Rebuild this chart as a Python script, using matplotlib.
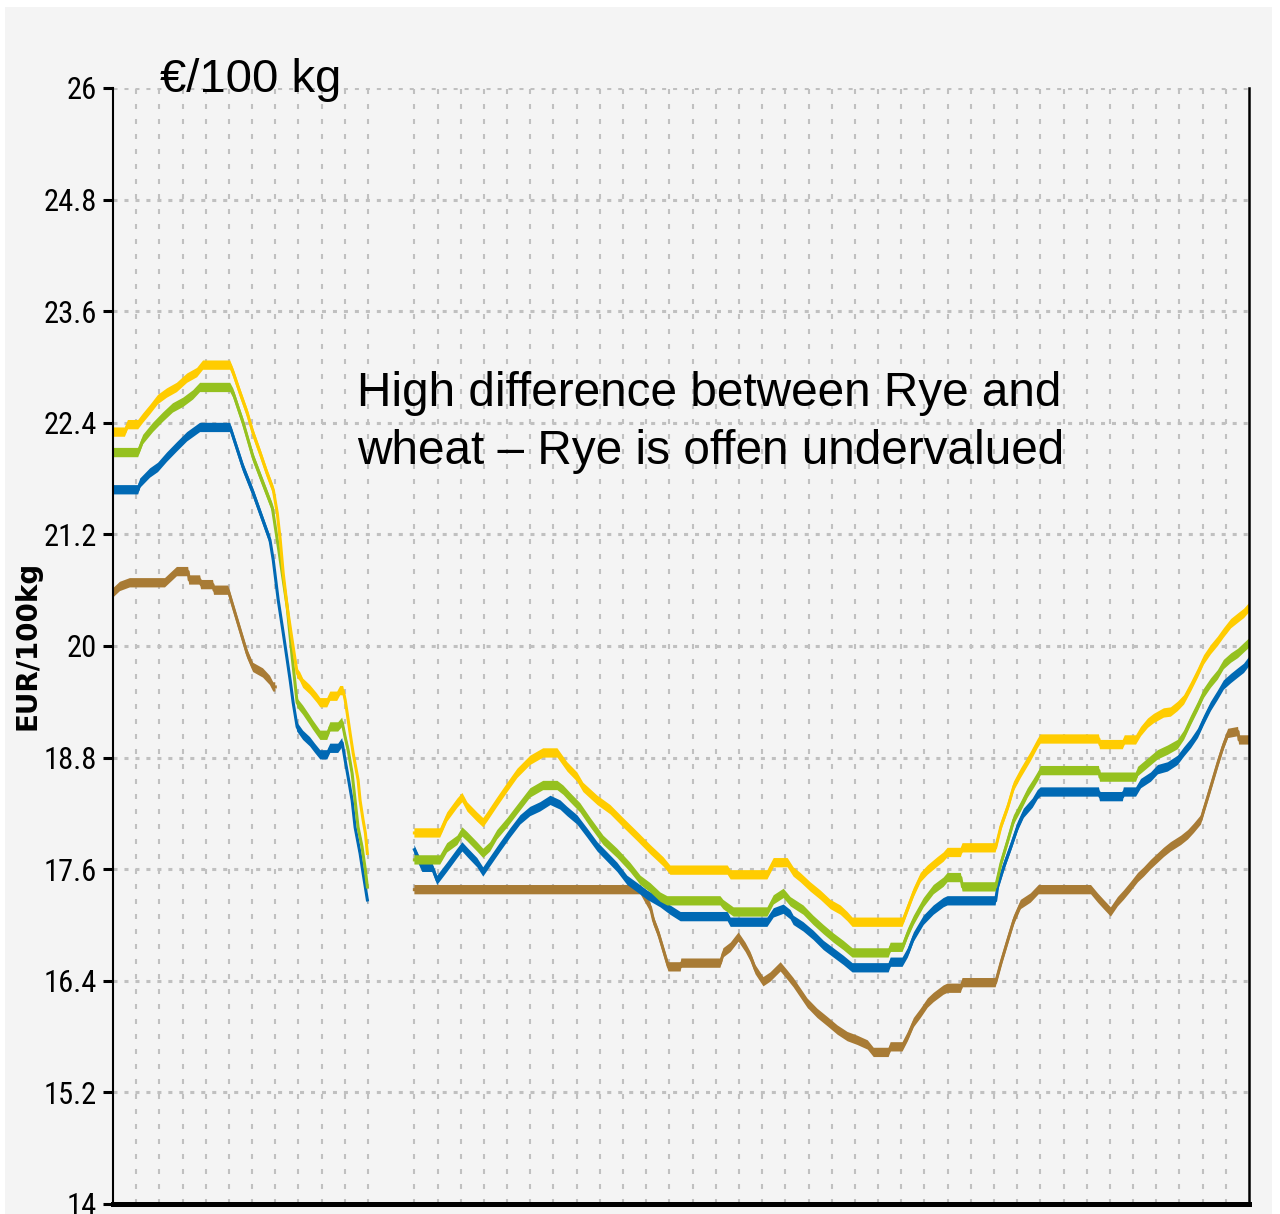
import numpy as np
import matplotlib.pyplot as plt
import matplotlib.font_manager as fm
from matplotlib.patches import Rectangle

plt.rcParams["lines.scale_dashes"] = False

# x = days since start of the period, y = EUR/100 kg ; None marks the gap in the data
yellow_day = [0, 3.6, 4.5, 7.6, 9.1, 11.2, 13.6, 16.3, 19.3, 22.4, 25.4, 27.2, 35.4, 36.3, 38.4, 40.5,
              42.3, 44.4, 46.5, 48.4, 49.6, 50.5, 51.4, 52.6, 54.1, 55.6, 56.5, 57.4, 59.5, 61.6, 62.6,
              64.7, 65.6, 67.7, 68.6, 69.5, 70.1, 70.7, 71.6, 72.5, 74.0, 74.6, 75.5, 76.2, 76.8, None,
              91.0, 98.8, 100.9, 104.0, 105.5, 107.0, 110.0, 111.8, 113.0, 116.0, 119.1, 122.1, 126.0,
              129.9, 134.2, 137.2, 140.2, 142.0, 146.3, 150.2, 154.1, 158.4, 162.3, 166.2, 168.3, 185.6,
              186.5, 197.6, 199.5, 203.7, 205.5, 207.6, 210.6, 213.7, 216.7, 219.7, 221.8, 223.3, 238.4,
              240.0, 241.8, 243.9, 246.0, 249.0, 250.8, 252.0, 256.0, 256.5, 266.5, 268.1, 270.2, 272.0,
              274.1, 277.1, 279.2, 280.1, 297.7, 298.0, 304.9, 305.5, 308.9, 310.4, 312.5, 314.3, 317.3,
              319.4, 321.5, 323.4, 325.5, 327.6, 329.4, 331.5, 333.6, 335.4, 337.6, 339.7, 341.5, 343.0]
yellow_val = [22.30, 22.30, 22.38, 22.38, 22.45, 22.54, 22.65, 22.72, 22.78, 22.88, 22.94, 23.02, 23.02,
              22.94, 22.72, 22.51, 22.29, 22.08, 21.86, 21.68, 21.43, 21.14, 20.78, 20.42, 20.06, 19.71,
              19.67, 19.60, 19.53, 19.44, 19.39, 19.39, 19.46, 19.46, 19.52, 19.52, 19.42, 19.28, 19.06,
              18.85, 18.56, 18.34, 18.13, 17.99, 17.77, None,
              17.99, 17.99, 18.16, 18.31, 18.37, 18.27, 18.16, 18.10, 18.16, 18.32, 18.48, 18.63, 18.77,
              18.85, 18.85, 18.70, 18.59, 18.48, 18.34, 18.24, 18.10, 17.95, 17.81, 17.68, 17.59, 17.59,
              17.54, 17.54, 17.67, 17.67, 17.57, 17.51, 17.41, 17.32, 17.22, 17.16, 17.09, 17.03, 17.03,
              17.18, 17.35, 17.51, 17.59, 17.68, 17.73, 17.78, 17.78, 17.83, 17.83, 18.06, 18.27, 18.49,
              18.63, 18.81, 18.95, 19.00, 19.00, 18.94, 18.94, 18.99, 18.99, 19.08, 19.17, 19.22, 19.28,
              19.29, 19.35, 19.42, 19.56, 19.71, 19.85, 19.96, 20.05, 20.14, 20.24, 20.30, 20.35, 20.41]

green_day = [0, 7.6, 9.1, 12.1, 15.1, 18.1, 21.2, 24.2, 26.3, 35.4, 36.3, 39.3, 42.3, 45.3, 48.1, 49.6,
             51.1, 52.6, 54.1, 55.6, 57.4, 59.5, 60.4, 62.6, 64.7, 65.6, 68.0, 69.2, 70.1, 71.0, 72.2,
             73.1, 74.0, 75.2, 76.2, 76.8, None,
             91.0, 98.8, 100.9, 104.0, 105.5, 107.0, 110.0, 111.8, 113.9, 116.0, 119.1, 122.1, 126.0,
             129.9, 134.2, 136.0, 138.1, 141.1, 144.2, 148.1, 152.3, 156.2, 159.3, 162.3, 165.3, 167.4,
             183.4, 184.3, 187.4, 197.6, 199.5, 202.5, 204.6, 208.5, 211.5, 214.6, 217.6, 220.6, 223.3,
             234.2, 234.8, 238.4, 240.0, 241.8, 244.8, 247.8, 250.8, 252.0, 256.0, 256.5, 266.5, 268.1,
             270.2, 272.0, 274.1, 276.2, 278.0, 279.5, 280.1, 297.7, 298.0, 308.9, 309.5, 312.5, 315.5,
             318.5, 321.5, 323.4, 325.5, 327.6, 329.4, 331.5, 333.6, 335.4, 337.6, 339.7, 341.5, 343.0]
green_val = [22.08, 22.08, 22.22, 22.35, 22.46, 22.56, 22.62, 22.70, 22.78, 22.78, 22.72, 22.40, 22.03,
             21.75, 21.49, 21.14, 20.78, 20.42, 19.88, 19.39, 19.31, 19.20, 19.15, 19.04, 19.04, 19.13,
             19.13, 19.18, 19.02, 18.88, 18.63, 18.34, 18.05, 17.84, 17.59, 17.41, None,
             17.70, 17.70, 17.83, 17.91, 18.00, 17.95, 17.84, 17.77, 17.84, 17.97, 18.10, 18.24, 18.42,
             18.50, 18.50, 18.45, 18.37, 18.26, 18.10, 17.91, 17.77, 17.62, 17.48, 17.40, 17.30, 17.26,
             17.26, 17.22, 17.14, 17.14, 17.27, 17.34, 17.25, 17.16, 17.05, 16.95, 16.86, 16.78, 16.70,
             16.70, 16.76, 16.76, 16.91, 17.05, 17.24, 17.38, 17.46, 17.51, 17.51, 17.41, 17.41, 17.66,
             17.91, 18.13, 18.27, 18.42, 18.52, 18.61, 18.66, 18.66, 18.59, 18.59, 18.65, 18.74, 18.83,
             18.88, 18.94, 19.04, 19.20, 19.35, 19.49, 19.60, 19.69, 19.80, 19.87, 19.92, 19.98, 20.03]

blue_day = [0, 7.6, 8.2, 11.2, 13.6, 16.3, 19.3, 22.4, 26.3, 35.4, 36.3, 39.3, 42.3, 45.3, 47.4, 48.4,
            49.9, 51.4, 52.6, 53.5, 54.4, 55.6, 57.4, 59.5, 61.0, 62.6, 64.7, 65.6, 68.0, 69.2, 70.1,
            71.0, 72.2, 73.1, 74.6, 75.5, 76.8, None,
            91.0, 93.4, 96.4, 97.9, 100.9, 104.0, 105.5, 107.3, 110.0, 111.8, 113.9, 117.0, 120.0,
            123.0, 126.0, 129.0, 132.1, 135.1, 137.2, 140.2, 143.2, 146.3, 149.3, 152.3, 155.3, 158.4,
            161.4, 165.3, 168.3, 171.4, 185.6, 186.5, 197.6, 199.5, 202.5, 204.6, 205.5, 208.5, 211.5,
            214.6, 217.6, 220.6, 223.3, 234.2, 234.8, 238.4, 240.0, 241.8, 244.8, 247.8, 250.8, 252.0,
            266.5, 267.1, 269.0, 271.1, 273.2, 275.0, 277.7, 279.2, 280.1, 297.7, 298.0, 304.9, 305.2,
            308.9, 310.4, 313.4, 315.5, 318.5, 321.5, 323.4, 325.5, 327.6, 329.4, 331.5, 333.6, 335.4,
            337.6, 339.7, 341.5, 343.0]
blue_val = [21.68, 21.68, 21.75, 21.86, 21.92, 22.03, 22.14, 22.25, 22.35, 22.35, 22.25, 21.92, 21.65,
            21.35, 21.14, 20.92, 20.49, 20.14, 19.85, 19.63, 19.39, 19.13, 19.04, 18.97, 18.90, 18.83,
            18.83, 18.90, 18.90, 18.96, 18.77, 18.59, 18.34, 18.05, 17.77, 17.56, 17.27, None,
            17.81, 17.62, 17.62, 17.48, 17.62, 17.77, 17.84, 17.77, 17.67, 17.57, 17.68, 17.84, 17.99,
            18.13, 18.22, 18.27, 18.34, 18.29, 18.22, 18.13, 17.99, 17.84, 17.73, 17.62, 17.48, 17.40,
            17.32, 17.24, 17.16, 17.09, 17.09, 17.03, 17.03, 17.13, 17.17, 17.11, 17.05, 16.98, 16.89,
            16.78, 16.70, 16.62, 16.54, 16.54, 16.60, 16.60, 16.70, 16.87, 17.05, 17.16, 17.24, 17.26,
            17.26, 17.41, 17.63, 17.84, 18.06, 18.20, 18.31, 18.40, 18.43, 18.43, 18.38, 18.38, 18.43,
            18.43, 18.52, 18.59, 18.67, 18.70, 18.77, 18.86, 18.95, 19.06, 19.20, 19.35, 19.47, 19.58,
            19.65, 19.71, 19.76, 19.83]

brown_day = [0, 2.1, 5.1, 15.7, 19.3, 22.7, 23.0, 26.3, 26.6, 30.2, 30.5, 34.8, 36.3, 38.4, 40.5, 42.3,
             45.3, 47.4, 48.4, 49.0, None,
             91.0, 159.3, 162.3, 163.2, 164.7, 166.2, 167.7, 171.4, 171.6, 183.4, 184.3, 186.5, 188.9,
             191.0, 192.5, 194.0, 196.4, 198.5, 201.6, 203.7, 205.5, 207.6, 209.7, 212.7, 215.8, 218.8,
             221.8, 224.8, 227.9, 229.7, 234.2, 234.8, 238.4, 240.0, 241.8, 243.9, 246.0, 247.8, 250.8,
             252.0, 256.0, 256.5, 266.5, 268.1, 270.2, 272.0, 274.1, 277.1, 279.5, 295.3, 297.4, 299.2,
             301.3, 303.4, 305.2, 307.3, 309.5, 311.3, 313.4, 315.5, 317.3, 319.4, 322.5, 324.6, 326.4,
             328.5, 329.4, 330.6, 332.1, 333.6, 335.1, 336.7, 339.7, 340.0, 343.0]
brown_val = [20.57, 20.64, 20.68, 20.68, 20.80, 20.80, 20.71, 20.71, 20.66, 20.66, 20.60, 20.60, 20.42,
             20.17, 19.92, 19.77, 19.71, 19.63, 19.56, 19.56, None,
             17.38, 17.38, 17.19, 17.05, 16.91, 16.73, 16.55, 16.55, 16.59, 16.59, 16.70, 16.76, 16.87,
             16.76, 16.66, 16.52, 16.39, 16.44, 16.55, 16.46, 16.38, 16.27, 16.16, 16.05, 15.96, 15.87,
             15.80, 15.76, 15.71, 15.63, 15.63, 15.69, 15.69, 15.80, 15.95, 16.05, 16.16, 16.22, 16.30,
             16.32, 16.32, 16.38, 16.38, 16.59, 16.84, 17.05, 17.22, 17.29, 17.38, 17.38, 17.29, 17.22,
             17.14, 17.25, 17.32, 17.41, 17.51, 17.57, 17.65, 17.72, 17.78, 17.84, 17.91, 17.97, 18.04,
             18.13, 18.24, 18.38, 18.56, 18.74, 18.91, 19.06, 19.08, 18.99, 18.99]

ytick_vals = [14, 15.2, 16.4, 17.6, 18.8, 20, 21.2, 22.4, 23.6, 24.8, 26]
ytick_labels = ["14", "15.2", "16.4", "17.6", "18.8", "20", "21.2", "22.4", "23.6", "24.8", "26"]
week_days = [d for d in range(7, 343, 7) if d != 84]   # no data week -> no grid line

series = [
    (brown_day, brown_val, "#a87b35"),
    (blue_day, blue_val, "#0069b4"),
    (green_day, green_val, "#95c11f"),
    (yellow_day, yellow_val, "#ffcc00"),
]

# narrow face for the tick labels if one is around
fonts = fm.fontManager.ttflist
names = {f.name for f in fonts}
tick_font, tick_stretch, tick_size = "DejaVu Sans", "normal", 19
for cand in ["Liberation Sans Narrow", "Roboto Condensed", "Open Sans Condensed"]:
    if cand in names:
        tick_font, tick_stretch, tick_size = cand, "normal", 22
        break
else:
    if any(f.name == "DejaVu Sans" and f.stretch == "condensed" for f in fonts):
        tick_stretch, tick_size = "condensed", 21
text_font = "Liberation Sans"

W, H = 1280, 1214
fig = plt.figure(figsize=(W / 100, H / 100), dpi=100, facecolor="white")
fig.patches.append(Rectangle((5 / W, 0), 1267 / W, 1 - 7 / H, transform=fig.transFigure,
                             facecolor="#f4f4f4", edgecolor="none", zorder=-5))

ax = fig.add_axes([113 / W, 1 - 1204 / H, (1249 - 113) / W, (1204 - 88) / H])
ax.set_facecolor("none")
ax.set_zorder(2)

half = 0.05   # lines look taller than wide in the source image
for xs, ys, c in series:
    x = np.array(xs, dtype=float)
    y = np.array(ys, dtype=float)
    ax.fill_between(x, y - half, y + half, color=c, lw=0, zorder=3)
    ax.plot(x, y, color=c, lw=2.2, zorder=3)

ax.set_xlim(0, 343)
ax.set_ylim(14, 26)
ax.set_yticks(ytick_vals)
ax.set_yticklabels(ytick_labels, fontsize=tick_size, family=tick_font, fontstretch=tick_stretch)
ax.set_xticks(week_days)
ax.tick_params(axis="x", length=0, labelbottom=False)
ax.tick_params(axis="y", length=7.2, width=2.2, pad=4.3, colors="black")

ax.yaxis.grid(True, color="#c0c0c0", lw=2.2, linestyle=(0, (2.9, 5.0)), zorder=1)
ax.xaxis.grid(True, color="#c0c0c0", lw=1.5, linestyle=(0, (3.6, 7.2)), zorder=1)

ax.spines["top"].set_visible(False)
ax.spines["left"].set_linewidth(1.5)
ax.spines["right"].set_linewidth(1.8)
ax.spines["bottom"].set_linewidth(3.6)
for s in ax.spines.values():
    s.set_zorder(4)

fig.text(28 / W, 1 - 645 / H, "EUR/100kg", rotation=90, ha="center", va="center",
         fontsize=20, fontweight="bold", family="DejaVu Sans")
fig.text(160 / W, 1 - 92 / H, "€/100 kg", ha="left", va="baseline", fontsize=34, family=text_font,
         zorder=5)
fig.text(357 / W, 1 - 371 / H, "High difference between Rye and\nwheat – Rye is offen undervalued",
         ha="left", va="top", fontsize=34.4, family=text_font, linespacing=1.36, zorder=5)

fig.savefig("out.png", dpi=100, facecolor=fig.get_facecolor())
